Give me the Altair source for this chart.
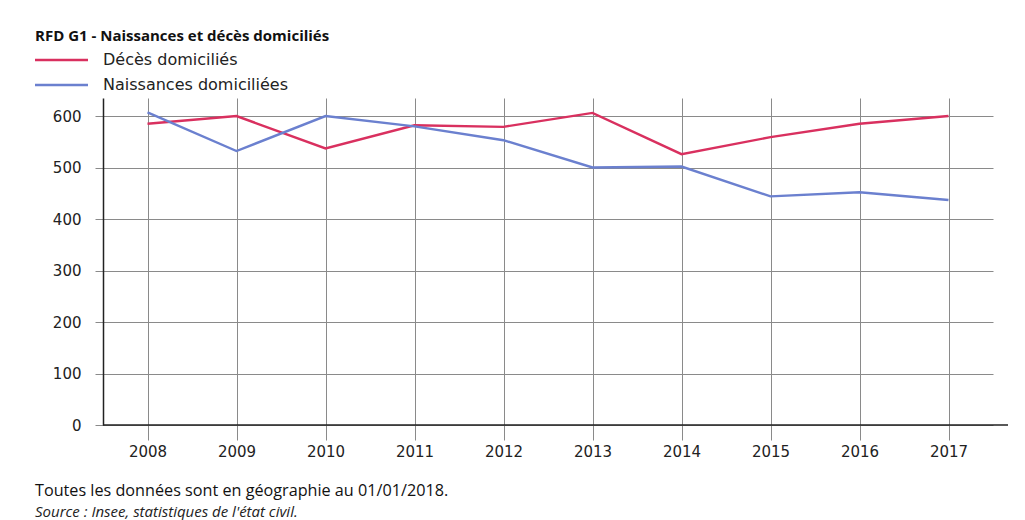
import altair as alt
import pandas as pd

annees = [2008, 2009, 2010, 2011, 2012, 2013, 2014, 2015, 2016, 2017]
deces = [585, 600, 537, 582, 579, 606, 526, 559, 585, 600]
naissances = [607, 532, 600, 580, 553, 500, 502, 444, 452, 437]
series = ["Décès domiciliés", "Naissances domiciliées"]
couleurs = ["#d9305f", "#6b80cf"]
titre = "RFD G1 - Naissances et décès domiciliés"
note = "Toutes les données sont en géographie au 01/01/2018."
source = "Source : Insee, statistiques de l'état civil."
y_ticks = [0, 100, 200, 300, 400, 500, 600]

rows = []
for a, d, n in zip(annees, deces, naissances):
    rows.append({"annee": str(a), "valeur": d, "serie": series[0]})
    rows.append({"annee": str(a), "valeur": n, "serie": series[1]})
df = pd.DataFrame(rows)

FONT = "Open Sans"
TICKFONT = "DejaVu Sans"

lines = alt.Chart(df).mark_line(strokeWidth=2.4).encode(
    x=alt.X("annee:O", scale=alt.Scale(type="point", padding=0.5),
            axis=alt.Axis(title=None, labelAngle=0, grid=True, gridColor="#8a8a8a",
                          gridWidth=1, tickSize=15, tickColor="#8a8a8a", domain=False,
                          labelPadding=4, labelFontSize=15, labelColor="#222",
                          labelFont=TICKFONT)),
    y=alt.Y("valeur:Q", scale=alt.Scale(domain=[0, 635], nice=False, zero=True),
            axis=alt.Axis(title=None, values=y_ticks, grid=True, gridColor="#8a8a8a",
                          gridWidth=1, tickSize=8, tickColor="#8a8a8a",
                          domainColor="#222", domainWidth=1.5, labelPadding=14,
                          labelFontSize=15, labelColor="#222", labelFont=TICKFONT)),
    color=alt.Color("serie:N", scale=alt.Scale(domain=series, range=couleurs), legend=None),
)

zero_line = alt.Chart(pd.DataFrame({"v": [0]})).mark_rule(color="#222", strokeWidth=1.5).encode(
    y="v:Q", x=alt.value(0), x2=alt.value(905))

# manual legend (symbol line + label per series)
legend_layers = []
for i, (s, c) in enumerate(zip(series, couleurs)):
    yy = -38 + 25 * i
    legend_layers.append(
        alt.Chart(pd.DataFrame({"t": [s]})).mark_rule(color=c, strokeWidth=2.5).encode(
            x=alt.value(-68), x2=alt.value(-15), y=alt.value(yy)))
    legend_layers.append(
        alt.Chart(pd.DataFrame({"t": [s]})).mark_text(
            align="left", baseline="middle", font=TICKFONT, fontSize=16, color="#222"
        ).encode(text="t:N", x=alt.value(0), y=alt.value(yy)))

titre_t = alt.Chart(pd.DataFrame({"t": [titre]})).mark_text(
    align="left", baseline="alphabetic", font=FONT, fontSize=15, fontWeight="bold", color="#111"
).encode(text="t:N", x=alt.value(-68), y=alt.value(-57))

note_t = alt.Chart(pd.DataFrame({"t": [note]})).mark_text(
    align="left", baseline="alphabetic", font=FONT, fontSize=16.2, color="#111"
).encode(text="t:N", x=alt.value(-68), y=alt.value(398))

source_t = alt.Chart(pd.DataFrame({"t": [source]})).mark_text(
    align="left", baseline="alphabetic", font=FONT, fontSize=15, fontStyle="italic", color="#222"
).encode(text="t:N", x=alt.value(-68), y=alt.value(419))

top_rule = alt.Chart(pd.DataFrame({"v": [0]})).mark_rule(color="#dddddd", strokeWidth=2).encode(
    x=alt.value(-92), x2=alt.value(925), y=alt.value(-91))

chart = alt.layer(lines, zero_line, *legend_layers, titre_t, note_t, source_t, top_rule).properties(
    width=890, height=327,
    autosize=alt.AutoSizeParams(type="none"),
    padding={"left": 95, "top": 90, "right": 24, "bottom": 95},
).configure(background="white", view=alt.ViewConfig(stroke=None))

chart.save("out.html", embed_options={"renderer": "svg", "actions": False})
